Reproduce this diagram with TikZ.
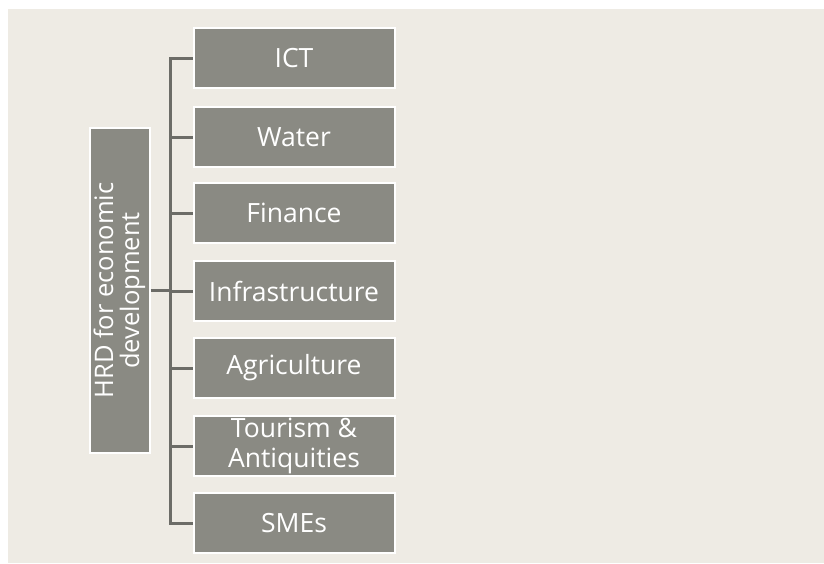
\documentclass[tikz,border=0pt]{standalone}
\usepackage{fontspec}
\setmainfont{Open Sans}
\definecolor{bgbeige}{HTML}{EEEBE4}
\definecolor{boxgrey}{HTML}{8A8A83}
\definecolor{linegrey}{HTML}{6C6C67}
\begin{document}
\begin{tikzpicture}[x=1pt,y=-1pt,
  catbox/.style={rectangle, fill=boxgrey, draw=white, line width=2pt,
    minimum width=201pt, minimum height=60pt, inner sep=1pt,
    text=white, font=\fontsize{26.5}{29}\selectfont, align=center},
  rootbox/.style={rectangle, fill=boxgrey, draw=white, line width=2pt,
    minimum width=325pt, minimum height=60pt, inner sep=2pt, rotate=90,
    text=white, font=\fontsize{25.5}{26}\selectfont, align=center},
  conn/.style={draw=linegrey, line width=3pt}]
\useasboundingbox (0,0) rectangle (824,563);
\fill[white] (0,0) rectangle (824,563);
\fill[bgbeige] (8,9) rectangle (824,563);
\node[rootbox] (hrd) at (119.5,290.5) {HRD for economic\\development};
\node[catbox] (ict) at (294,58) {ICT};
\node[catbox] (water) at (294,137) {Water};
\node[catbox] (fin) at (294,213) {Finance};
\node[catbox] (infra) at (294,291) {Infrastructure};
\node[catbox] (agri) at (294,368) {Agriculture};
\node[catbox, font=\fontsize{26.5}{30}\selectfont] (tour) at (294,446) {Tourism \&\\Antiquities};
\node[catbox] (sme) at (294,523) {SMEs};
\coordinate (j) at (170,290.5);
\draw[conn] (hrd.south) -- (j);
\foreach \c in {ict,water,fin,infra,agri,tour,sme}{
  \draw[conn] (j) |- (\c.west);
}
\end{tikzpicture}
\end{document}
